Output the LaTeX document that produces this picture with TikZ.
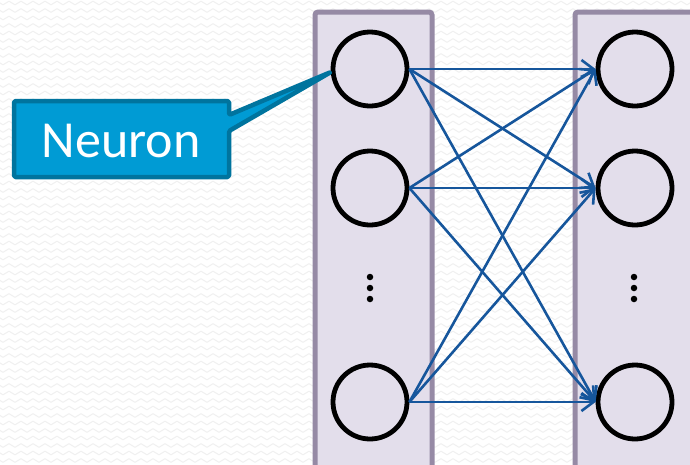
\documentclass[tikz,border=0pt]{standalone}
\usepackage{fontspec}
\newfontfamily\calloutfont{Carlito}
\usetikzlibrary{arrows.meta,decorations.pathmorphing}

\definecolor{layerfill}{RGB}{227,222,235}
\definecolor{layerline}{RGB}{150,138,165}
\definecolor{linkblue}{RGB}{22,86,156}
\definecolor{calloutfill}{RGB}{0,155,212}
\definecolor{calloutline}{RGB}{0,116,158}
\definecolor{bgwave}{RGB}{240,240,240}

\tikzset{
  layer/.style={draw=layerline, line width=5pt, fill=layerfill, rounded corners=3pt},
  neuron/.style={circle, draw=black, line width=4.8pt, minimum size=74pt, inner sep=0pt},
  link/.style={draw=linkblue, line width=2.6pt, -{Straight Barb[length=12pt,width=18pt,line width=2.6pt]}},
  vdots/.style={circle, fill=black, minimum size=6.5pt, inner sep=0pt},
  wave/.style={draw=bgwave, line width=1pt, decorate,
    decoration={zigzag, segment length=12pt, amplitude=1.8pt}},
}

\begin{document}
\begin{tikzpicture}[x=1pt, y=-1pt]
  \useasboundingbox (0,0) rectangle (690,464);
  \clip (0,0) rectangle (690,464);

  % faint woven background
  \fill[white] (0,0) rectangle (690,464);
  \foreach \r in {0,...,62} {
    \draw[wave] (-6,{3+7.5*\r}) -- (700,{3+7.5*\r});
  }

  % the two layers
  \draw[layer] (315,12) rectangle (432,480);
  \draw[layer] (575,12) rectangle (700,480);

  % neurons
  \node[neuron] (a1) at (370,69) {};
  \node[neuron] (a2) at (370,188) {};
  \node[neuron] (a3) at (370,402) {};
  \node[neuron] (b1) at (635,69) {};
  \node[neuron] (b2) at (635,188) {};
  \node[neuron] (b3) at (635,402) {};

  % vertical ellipses
  \foreach \y [count=\k] in {277,288,299} {
    \node[vdots] (da\k) at (370,\y) {};
    \node[vdots] (db\k) at (634,\y) {};
  }

  % full connections between the layers
  \foreach \i in {1,2,3} {
    \foreach \j in {1,2,3} {
      \draw[link] (a\i.east) -- (b\j.west);
    }
  }

  % callout pointing at a neuron
  \coordinate (tip) at (331,72);
  \draw[fill=calloutfill, draw=calloutline, line width=4.5pt, line join=round, rounded corners=1.5pt]
    (14,101) -- (229,101) -- (229,115) -- (tip) -- (229,131) -- (229,177) -- (14,177) -- cycle;
  \node[text=white, font=\calloutfont\fontsize{52}{52}\selectfont, anchor=base] (label) at (121,157) {Neuron};
\end{tikzpicture}
\end{document}
